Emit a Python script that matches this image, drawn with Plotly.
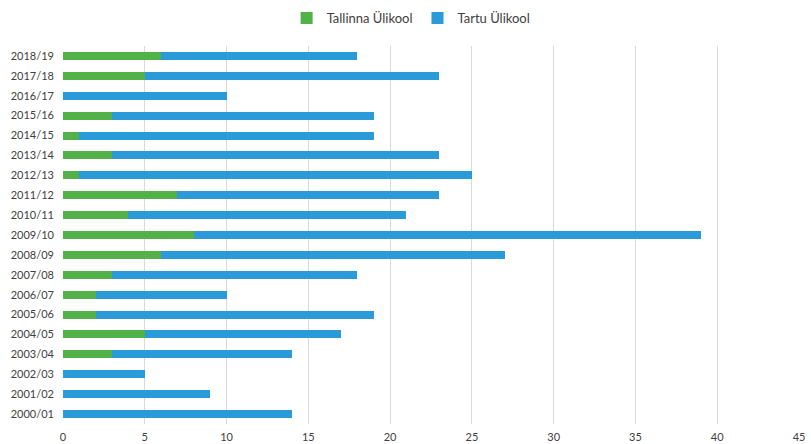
import plotly.graph_objects as go

years = ["2000/01", "2001/02", "2002/03", "2003/04", "2004/05", "2005/06", "2006/07",
         "2007/08", "2008/09", "2009/10", "2010/11", "2011/12", "2012/13", "2013/14",
         "2014/15", "2015/16", "2016/17", "2017/18", "2018/19"]
tallinn = [0, 0, 0, 3, 5, 2, 2, 3, 6, 8, 4, 7, 1, 3, 1, 3, 0, 5, 6]
tartu = [14, 9, 5, 11, 12, 17, 8, 15, 21, 31, 17, 16, 24, 20, 18, 16, 10, 18, 12]
x_ticks = [0, 5, 10, 15, 20, 25, 30, 35, 40, 45]

fig = go.Figure()
fig.add_trace(go.Bar(y=years, x=tallinn, orientation="h", name="Tallinna Ülikool",
                     marker=dict(color="#52B148", line=dict(width=0))))
fig.add_trace(go.Bar(y=years, x=tartu, orientation="h", name="Tartu Ülikool",
                     marker=dict(color="#2A9BD8", line=dict(width=0))))

fig.update_layout(
    barmode="stack",
    bargap=0.6,
    width=811, height=444,
    margin=dict(l=63, r=12, t=46, b=20, autoexpand=False),
    paper_bgcolor="white", plot_bgcolor="white",
    font=dict(family="Lato, Liberation Sans, sans-serif", color="#404040", size=11),
    legend=dict(orientation="h", x=0.473, xanchor="center", y=0.993, yanchor="top",
                yref="container", font=dict(size=13, color="#404040"),
                traceorder="normal", itemwidth=30, tracegroupgap=0),
    showlegend=True,
)
fig.update_xaxes(range=[0, 45], tickvals=x_ticks, showgrid=True, gridcolor="#D9D9D9",
                 gridwidth=1, zeroline=False, showline=False, ticks="",
                 ticklabelstandoff=5,
                 automargin=False, tickfont=dict(size=11, color="#404040"))
fig.update_yaxes(categoryorder="array", categoryarray=years, showgrid=False,
                 zeroline=False, showline=False, ticks="", ticklabelstandoff=8,
                 automargin=False, tickfont=dict(size=11, color="#404040"))

fig.write_html("out.html", config={"displayModeBar": False},
               post_script="document.body.style.margin='0';")
